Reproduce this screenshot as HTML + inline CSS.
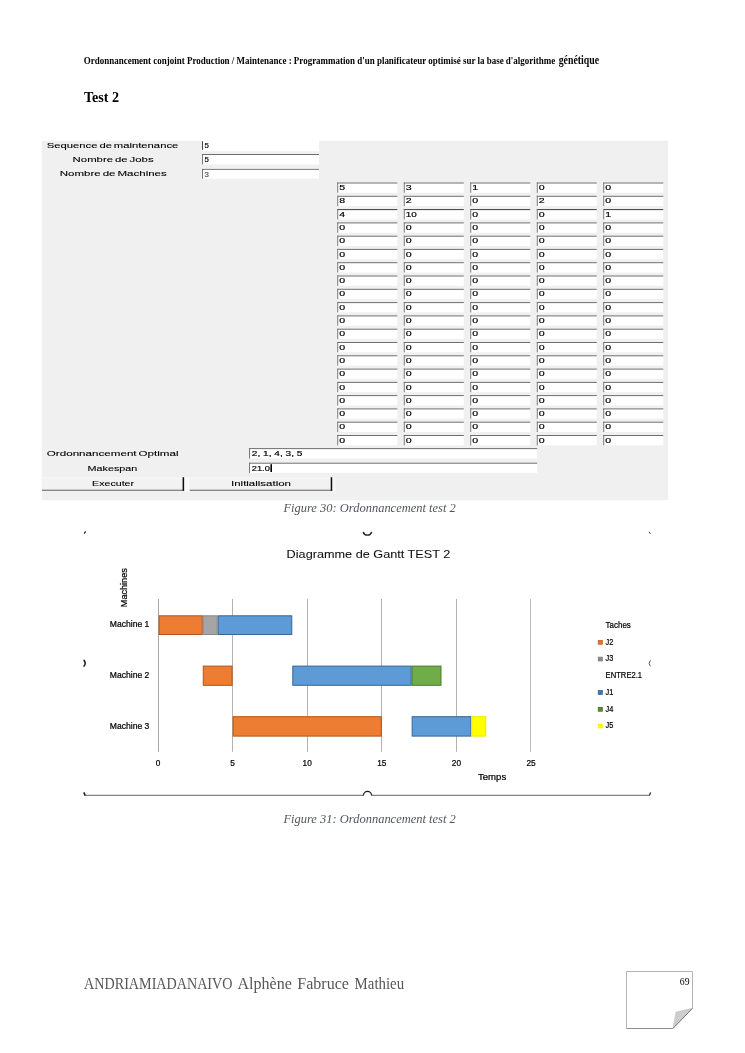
<!DOCTYPE html>
<html lang="fr"><head><meta charset="utf-8"><title>Ordonnancement conjoint Production / Maintenance - Test 2</title>
<style>
html,body{margin:0;padding:0;background:#fff}
body{width:745px;height:1053px;overflow:hidden;position:relative;font-family:"Liberation Sans",sans-serif}
svg{position:absolute;left:0;top:0;display:block}
text{white-space:pre}
.ui{font-family:"Liberation Sans",sans-serif;font-size:7.4px;fill:#000;stroke:#000;stroke-width:.1px;word-spacing:-.8px}
.ch{font-family:"Liberation Sans",sans-serif;fill:#000;stroke:#000;stroke-width:.22px}
.uv{stroke-width:.17px}
.cap{font-family:"Liberation Serif",serif;font-style:italic;font-size:12.3px;fill:#50555c}
</style></head><body>
<svg width="745" height="1053" viewBox="0 0 745 1053">
<defs><filter id="soft" x="0" y="0" width="745" height="1053" filterUnits="userSpaceOnUse"><feGaussianBlur stdDeviation="0.35"/></filter>
<filter id="soft2" x="0" y="0" width="745" height="1053" filterUnits="userSpaceOnUse"><feGaussianBlur stdDeviation="0.25"/></filter>
<filter id="soft3" x="0" y="0" width="745" height="1053" filterUnits="userSpaceOnUse"><feGaussianBlur stdDeviation="0.2"/></filter></defs>
<g id="grid"><rect x="158" y="599" width="1" height="152.8" fill="#a6a6a6"/><rect x="232" y="599" width="1" height="152.8" fill="#b2b2b2"/><rect x="307" y="599" width="1" height="152.8" fill="#b2b2b2"/><rect x="381" y="599" width="1" height="152.8" fill="#b2b2b2"/><rect x="456" y="599" width="1" height="152.8" fill="#b2b2b2"/><rect x="530" y="599" width="1" height="152.8" fill="#bcbcbc"/></g>
<g id="doc" filter="url(#soft3)">
<text x="83.8" y="63.6" textLength="471.4" lengthAdjust="spacingAndGlyphs" style="font-family:'Liberation Serif',serif;font-weight:bold;font-size:10.8px;fill:#000">Ordonnancement conjoint Production / Maintenance : Programmation d'un planificateur optimisé sur la base d'algorithme</text>
<text x="558.7" y="63.8" textLength="40.4" lengthAdjust="spacingAndGlyphs" style="font-family:'Liberation Serif',serif;font-weight:bold;font-size:12.6px;fill:#000">génétique</text>
<text x="84.0" y="101.8" textLength="35.1" lengthAdjust="spacingAndGlyphs" style="font-family:'Liberation Serif',serif;font-weight:bold;font-size:15px;fill:#000">Test 2</text>
</g>
<g id="form" filter="url(#soft)">
<rect x="41.8" y="140.7" width="626.3" height="359.5" fill="#f0f0f0"/>
<rect x="202" y="140.2" width="117" height="11" fill="#fff"/><rect x="202" y="141.2" width="1" height="8.6" fill="#444"/>
<rect x="202.0" y="154.0" width="117.0" height="10.5" fill="#fff"/><rect x="202.0" y="154.0" width="117.0" height="1" fill="#6e6e6e"/><rect x="202.0" y="154.0" width="0.9" height="10.5" fill="#6a6a6a"/>
<rect x="202.0" y="168.9" width="117.0" height="9.8" fill="#fff"/><rect x="202.0" y="168.9" width="117.0" height="1" fill="#7c7c7c"/><rect x="202.0" y="168.9" width="0.9" height="9.8" fill="#6a6a6a"/>
<text class="ui" x="46.8" y="147.9" textLength="131.5" lengthAdjust="spacingAndGlyphs">Sequence de maintenance</text>
<text class="ui" x="72.6" y="162.3" textLength="81.0" lengthAdjust="spacingAndGlyphs">Nombre de Jobs</text>
<text class="ui" x="59.8" y="176.0" textLength="107.0" lengthAdjust="spacingAndGlyphs">Nombre de Machines</text>
<text class="ui uv" x="204.6" y="148.2" textLength="4.4" lengthAdjust="spacingAndGlyphs">5</text>
<text class="ui uv" x="204.6" y="162.4" textLength="4.4" lengthAdjust="spacingAndGlyphs">5</text>
<text class="ui uv" style="fill:#555;stroke:#555" x="204.6" y="176.9" textLength="4.4" lengthAdjust="spacingAndGlyphs">3</text>
<rect x="337.3" y="182.5" width="60.0" height="10.3" fill="#fff"/><rect x="337.3" y="182.5" width="60.0" height="1" fill="#6e6e6e"/><rect x="337.3" y="182.5" width="0.9" height="10.3" fill="#6a6a6a"/>
<text class="ui uv" x="339.3" y="190.1" textLength="5.9" lengthAdjust="spacingAndGlyphs">5</text>
<rect x="403.8" y="182.5" width="60.0" height="10.3" fill="#fff"/><rect x="403.8" y="182.5" width="60.0" height="1" fill="#6e6e6e"/><rect x="403.8" y="182.5" width="0.9" height="10.3" fill="#6a6a6a"/>
<text class="ui uv" x="405.8" y="190.1" textLength="5.9" lengthAdjust="spacingAndGlyphs">3</text>
<rect x="470.3" y="182.5" width="60.0" height="10.3" fill="#fff"/><rect x="470.3" y="182.5" width="60.0" height="1" fill="#6e6e6e"/><rect x="470.3" y="182.5" width="0.9" height="10.3" fill="#6a6a6a"/>
<text class="ui uv" x="472.3" y="190.1" textLength="5.9" lengthAdjust="spacingAndGlyphs">1</text>
<rect x="536.8" y="182.5" width="60.0" height="10.3" fill="#fff"/><rect x="536.8" y="182.5" width="60.0" height="1" fill="#6e6e6e"/><rect x="536.8" y="182.5" width="0.9" height="10.3" fill="#6a6a6a"/>
<text class="ui uv" x="538.8" y="190.1" textLength="5.9" lengthAdjust="spacingAndGlyphs">0</text>
<rect x="603.3" y="182.5" width="60.0" height="10.3" fill="#fff"/><rect x="603.3" y="182.5" width="60.0" height="1" fill="#6e6e6e"/><rect x="603.3" y="182.5" width="0.9" height="10.3" fill="#6a6a6a"/>
<text class="ui uv" x="605.3" y="190.1" textLength="5.9" lengthAdjust="spacingAndGlyphs">0</text>
<rect x="337.3" y="195.8" width="60.0" height="10.3" fill="#fff"/><rect x="337.3" y="195.8" width="60.0" height="1" fill="#6e6e6e"/><rect x="337.3" y="195.8" width="0.9" height="10.3" fill="#6a6a6a"/>
<text class="ui uv" x="339.3" y="203.4" textLength="5.9" lengthAdjust="spacingAndGlyphs">8</text>
<rect x="403.8" y="195.8" width="60.0" height="10.3" fill="#fff"/><rect x="403.8" y="195.8" width="60.0" height="1" fill="#6e6e6e"/><rect x="403.8" y="195.8" width="0.9" height="10.3" fill="#6a6a6a"/>
<text class="ui uv" x="405.8" y="203.4" textLength="5.9" lengthAdjust="spacingAndGlyphs">2</text>
<rect x="470.3" y="195.8" width="60.0" height="10.3" fill="#fff"/><rect x="470.3" y="195.8" width="60.0" height="1" fill="#6e6e6e"/><rect x="470.3" y="195.8" width="0.9" height="10.3" fill="#6a6a6a"/>
<text class="ui uv" x="472.3" y="203.4" textLength="5.9" lengthAdjust="spacingAndGlyphs">0</text>
<rect x="536.8" y="195.8" width="60.0" height="10.3" fill="#fff"/><rect x="536.8" y="195.8" width="60.0" height="1" fill="#6e6e6e"/><rect x="536.8" y="195.8" width="0.9" height="10.3" fill="#6a6a6a"/>
<text class="ui uv" x="538.8" y="203.4" textLength="5.9" lengthAdjust="spacingAndGlyphs">2</text>
<rect x="603.3" y="195.8" width="60.0" height="10.3" fill="#fff"/><rect x="603.3" y="195.8" width="60.0" height="1" fill="#6e6e6e"/><rect x="603.3" y="195.8" width="0.9" height="10.3" fill="#6a6a6a"/>
<text class="ui uv" x="605.3" y="203.4" textLength="5.9" lengthAdjust="spacingAndGlyphs">0</text>
<rect x="337.3" y="209.1" width="60.0" height="10.3" fill="#fff"/><rect x="337.3" y="209.1" width="60.0" height="1" fill="#3c3c3c"/><rect x="337.3" y="209.1" width="0.9" height="10.3" fill="#6a6a6a"/>
<text class="ui uv" x="339.3" y="216.7" textLength="5.9" lengthAdjust="spacingAndGlyphs">4</text>
<rect x="403.8" y="209.1" width="60.0" height="10.3" fill="#fff"/><rect x="403.8" y="209.1" width="60.0" height="1" fill="#3c3c3c"/><rect x="403.8" y="209.1" width="0.9" height="10.3" fill="#6a6a6a"/>
<text class="ui uv" x="405.8" y="216.7" textLength="11.0" lengthAdjust="spacingAndGlyphs">10</text>
<rect x="470.3" y="209.1" width="60.0" height="10.3" fill="#fff"/><rect x="470.3" y="209.1" width="60.0" height="1" fill="#3c3c3c"/><rect x="470.3" y="209.1" width="0.9" height="10.3" fill="#6a6a6a"/>
<text class="ui uv" x="472.3" y="216.7" textLength="5.9" lengthAdjust="spacingAndGlyphs">0</text>
<rect x="536.8" y="209.1" width="60.0" height="10.3" fill="#fff"/><rect x="536.8" y="209.1" width="60.0" height="1" fill="#3c3c3c"/><rect x="536.8" y="209.1" width="0.9" height="10.3" fill="#6a6a6a"/>
<text class="ui uv" x="538.8" y="216.7" textLength="5.9" lengthAdjust="spacingAndGlyphs">0</text>
<rect x="603.3" y="209.1" width="60.0" height="10.3" fill="#fff"/><rect x="603.3" y="209.1" width="60.0" height="1" fill="#3c3c3c"/><rect x="603.3" y="209.1" width="0.9" height="10.3" fill="#6a6a6a"/>
<text class="ui uv" x="605.3" y="216.7" textLength="5.9" lengthAdjust="spacingAndGlyphs">1</text>
<rect x="337.3" y="222.4" width="60.0" height="10.3" fill="#fff"/><rect x="337.3" y="222.4" width="60.0" height="1" fill="#6e6e6e"/><rect x="337.3" y="222.4" width="0.9" height="10.3" fill="#6a6a6a"/>
<text class="ui uv" x="339.3" y="230.0" textLength="5.9" lengthAdjust="spacingAndGlyphs">0</text>
<rect x="403.8" y="222.4" width="60.0" height="10.3" fill="#fff"/><rect x="403.8" y="222.4" width="60.0" height="1" fill="#6e6e6e"/><rect x="403.8" y="222.4" width="0.9" height="10.3" fill="#6a6a6a"/>
<text class="ui uv" x="405.8" y="230.0" textLength="5.9" lengthAdjust="spacingAndGlyphs">0</text>
<rect x="470.3" y="222.4" width="60.0" height="10.3" fill="#fff"/><rect x="470.3" y="222.4" width="60.0" height="1" fill="#6e6e6e"/><rect x="470.3" y="222.4" width="0.9" height="10.3" fill="#6a6a6a"/>
<text class="ui uv" x="472.3" y="230.0" textLength="5.9" lengthAdjust="spacingAndGlyphs">0</text>
<rect x="536.8" y="222.4" width="60.0" height="10.3" fill="#fff"/><rect x="536.8" y="222.4" width="60.0" height="1" fill="#6e6e6e"/><rect x="536.8" y="222.4" width="0.9" height="10.3" fill="#6a6a6a"/>
<text class="ui uv" x="538.8" y="230.0" textLength="5.9" lengthAdjust="spacingAndGlyphs">0</text>
<rect x="603.3" y="222.4" width="60.0" height="10.3" fill="#fff"/><rect x="603.3" y="222.4" width="60.0" height="1" fill="#6e6e6e"/><rect x="603.3" y="222.4" width="0.9" height="10.3" fill="#6a6a6a"/>
<text class="ui uv" x="605.3" y="230.0" textLength="5.9" lengthAdjust="spacingAndGlyphs">0</text>
<rect x="337.3" y="235.7" width="60.0" height="10.3" fill="#fff"/><rect x="337.3" y="235.7" width="60.0" height="1" fill="#6e6e6e"/><rect x="337.3" y="235.7" width="0.9" height="10.3" fill="#6a6a6a"/>
<text class="ui uv" x="339.3" y="243.3" textLength="5.9" lengthAdjust="spacingAndGlyphs">0</text>
<rect x="403.8" y="235.7" width="60.0" height="10.3" fill="#fff"/><rect x="403.8" y="235.7" width="60.0" height="1" fill="#6e6e6e"/><rect x="403.8" y="235.7" width="0.9" height="10.3" fill="#6a6a6a"/>
<text class="ui uv" x="405.8" y="243.3" textLength="5.9" lengthAdjust="spacingAndGlyphs">0</text>
<rect x="470.3" y="235.7" width="60.0" height="10.3" fill="#fff"/><rect x="470.3" y="235.7" width="60.0" height="1" fill="#6e6e6e"/><rect x="470.3" y="235.7" width="0.9" height="10.3" fill="#6a6a6a"/>
<text class="ui uv" x="472.3" y="243.3" textLength="5.9" lengthAdjust="spacingAndGlyphs">0</text>
<rect x="536.8" y="235.7" width="60.0" height="10.3" fill="#fff"/><rect x="536.8" y="235.7" width="60.0" height="1" fill="#6e6e6e"/><rect x="536.8" y="235.7" width="0.9" height="10.3" fill="#6a6a6a"/>
<text class="ui uv" x="538.8" y="243.3" textLength="5.9" lengthAdjust="spacingAndGlyphs">0</text>
<rect x="603.3" y="235.7" width="60.0" height="10.3" fill="#fff"/><rect x="603.3" y="235.7" width="60.0" height="1" fill="#6e6e6e"/><rect x="603.3" y="235.7" width="0.9" height="10.3" fill="#6a6a6a"/>
<text class="ui uv" x="605.3" y="243.3" textLength="5.9" lengthAdjust="spacingAndGlyphs">0</text>
<rect x="337.3" y="248.9" width="60.0" height="10.3" fill="#fff"/><rect x="337.3" y="248.9" width="60.0" height="1" fill="#6e6e6e"/><rect x="337.3" y="248.9" width="0.9" height="10.3" fill="#6a6a6a"/>
<text class="ui uv" x="339.3" y="256.6" textLength="5.9" lengthAdjust="spacingAndGlyphs">0</text>
<rect x="403.8" y="248.9" width="60.0" height="10.3" fill="#fff"/><rect x="403.8" y="248.9" width="60.0" height="1" fill="#6e6e6e"/><rect x="403.8" y="248.9" width="0.9" height="10.3" fill="#6a6a6a"/>
<text class="ui uv" x="405.8" y="256.6" textLength="5.9" lengthAdjust="spacingAndGlyphs">0</text>
<rect x="470.3" y="248.9" width="60.0" height="10.3" fill="#fff"/><rect x="470.3" y="248.9" width="60.0" height="1" fill="#6e6e6e"/><rect x="470.3" y="248.9" width="0.9" height="10.3" fill="#6a6a6a"/>
<text class="ui uv" x="472.3" y="256.6" textLength="5.9" lengthAdjust="spacingAndGlyphs">0</text>
<rect x="536.8" y="248.9" width="60.0" height="10.3" fill="#fff"/><rect x="536.8" y="248.9" width="60.0" height="1" fill="#6e6e6e"/><rect x="536.8" y="248.9" width="0.9" height="10.3" fill="#6a6a6a"/>
<text class="ui uv" x="538.8" y="256.6" textLength="5.9" lengthAdjust="spacingAndGlyphs">0</text>
<rect x="603.3" y="248.9" width="60.0" height="10.3" fill="#fff"/><rect x="603.3" y="248.9" width="60.0" height="1" fill="#6e6e6e"/><rect x="603.3" y="248.9" width="0.9" height="10.3" fill="#6a6a6a"/>
<text class="ui uv" x="605.3" y="256.6" textLength="5.9" lengthAdjust="spacingAndGlyphs">0</text>
<rect x="337.3" y="262.2" width="60.0" height="10.3" fill="#fff"/><rect x="337.3" y="262.2" width="60.0" height="1" fill="#6e6e6e"/><rect x="337.3" y="262.2" width="0.9" height="10.3" fill="#6a6a6a"/>
<text class="ui uv" x="339.3" y="269.8" textLength="5.9" lengthAdjust="spacingAndGlyphs">0</text>
<rect x="403.8" y="262.2" width="60.0" height="10.3" fill="#fff"/><rect x="403.8" y="262.2" width="60.0" height="1" fill="#6e6e6e"/><rect x="403.8" y="262.2" width="0.9" height="10.3" fill="#6a6a6a"/>
<text class="ui uv" x="405.8" y="269.8" textLength="5.9" lengthAdjust="spacingAndGlyphs">0</text>
<rect x="470.3" y="262.2" width="60.0" height="10.3" fill="#fff"/><rect x="470.3" y="262.2" width="60.0" height="1" fill="#6e6e6e"/><rect x="470.3" y="262.2" width="0.9" height="10.3" fill="#6a6a6a"/>
<text class="ui uv" x="472.3" y="269.8" textLength="5.9" lengthAdjust="spacingAndGlyphs">0</text>
<rect x="536.8" y="262.2" width="60.0" height="10.3" fill="#fff"/><rect x="536.8" y="262.2" width="60.0" height="1" fill="#6e6e6e"/><rect x="536.8" y="262.2" width="0.9" height="10.3" fill="#6a6a6a"/>
<text class="ui uv" x="538.8" y="269.8" textLength="5.9" lengthAdjust="spacingAndGlyphs">0</text>
<rect x="603.3" y="262.2" width="60.0" height="10.3" fill="#fff"/><rect x="603.3" y="262.2" width="60.0" height="1" fill="#6e6e6e"/><rect x="603.3" y="262.2" width="0.9" height="10.3" fill="#6a6a6a"/>
<text class="ui uv" x="605.3" y="269.8" textLength="5.9" lengthAdjust="spacingAndGlyphs">0</text>
<rect x="337.3" y="275.5" width="60.0" height="10.3" fill="#fff"/><rect x="337.3" y="275.5" width="60.0" height="1" fill="#6e6e6e"/><rect x="337.3" y="275.5" width="0.9" height="10.3" fill="#6a6a6a"/>
<text class="ui uv" x="339.3" y="283.1" textLength="5.9" lengthAdjust="spacingAndGlyphs">0</text>
<rect x="403.8" y="275.5" width="60.0" height="10.3" fill="#fff"/><rect x="403.8" y="275.5" width="60.0" height="1" fill="#6e6e6e"/><rect x="403.8" y="275.5" width="0.9" height="10.3" fill="#6a6a6a"/>
<text class="ui uv" x="405.8" y="283.1" textLength="5.9" lengthAdjust="spacingAndGlyphs">0</text>
<rect x="470.3" y="275.5" width="60.0" height="10.3" fill="#fff"/><rect x="470.3" y="275.5" width="60.0" height="1" fill="#6e6e6e"/><rect x="470.3" y="275.5" width="0.9" height="10.3" fill="#6a6a6a"/>
<text class="ui uv" x="472.3" y="283.1" textLength="5.9" lengthAdjust="spacingAndGlyphs">0</text>
<rect x="536.8" y="275.5" width="60.0" height="10.3" fill="#fff"/><rect x="536.8" y="275.5" width="60.0" height="1" fill="#6e6e6e"/><rect x="536.8" y="275.5" width="0.9" height="10.3" fill="#6a6a6a"/>
<text class="ui uv" x="538.8" y="283.1" textLength="5.9" lengthAdjust="spacingAndGlyphs">0</text>
<rect x="603.3" y="275.5" width="60.0" height="10.3" fill="#fff"/><rect x="603.3" y="275.5" width="60.0" height="1" fill="#6e6e6e"/><rect x="603.3" y="275.5" width="0.9" height="10.3" fill="#6a6a6a"/>
<text class="ui uv" x="605.3" y="283.1" textLength="5.9" lengthAdjust="spacingAndGlyphs">0</text>
<rect x="337.3" y="288.8" width="60.0" height="10.3" fill="#fff"/><rect x="337.3" y="288.8" width="60.0" height="1" fill="#6e6e6e"/><rect x="337.3" y="288.8" width="0.9" height="10.3" fill="#6a6a6a"/>
<text class="ui uv" x="339.3" y="296.4" textLength="5.9" lengthAdjust="spacingAndGlyphs">0</text>
<rect x="403.8" y="288.8" width="60.0" height="10.3" fill="#fff"/><rect x="403.8" y="288.8" width="60.0" height="1" fill="#6e6e6e"/><rect x="403.8" y="288.8" width="0.9" height="10.3" fill="#6a6a6a"/>
<text class="ui uv" x="405.8" y="296.4" textLength="5.9" lengthAdjust="spacingAndGlyphs">0</text>
<rect x="470.3" y="288.8" width="60.0" height="10.3" fill="#fff"/><rect x="470.3" y="288.8" width="60.0" height="1" fill="#6e6e6e"/><rect x="470.3" y="288.8" width="0.9" height="10.3" fill="#6a6a6a"/>
<text class="ui uv" x="472.3" y="296.4" textLength="5.9" lengthAdjust="spacingAndGlyphs">0</text>
<rect x="536.8" y="288.8" width="60.0" height="10.3" fill="#fff"/><rect x="536.8" y="288.8" width="60.0" height="1" fill="#6e6e6e"/><rect x="536.8" y="288.8" width="0.9" height="10.3" fill="#6a6a6a"/>
<text class="ui uv" x="538.8" y="296.4" textLength="5.9" lengthAdjust="spacingAndGlyphs">0</text>
<rect x="603.3" y="288.8" width="60.0" height="10.3" fill="#fff"/><rect x="603.3" y="288.8" width="60.0" height="1" fill="#6e6e6e"/><rect x="603.3" y="288.8" width="0.9" height="10.3" fill="#6a6a6a"/>
<text class="ui uv" x="605.3" y="296.4" textLength="5.9" lengthAdjust="spacingAndGlyphs">0</text>
<rect x="337.3" y="302.1" width="60.0" height="10.3" fill="#fff"/><rect x="337.3" y="302.1" width="60.0" height="1" fill="#6e6e6e"/><rect x="337.3" y="302.1" width="0.9" height="10.3" fill="#6a6a6a"/>
<text class="ui uv" x="339.3" y="309.7" textLength="5.9" lengthAdjust="spacingAndGlyphs">0</text>
<rect x="403.8" y="302.1" width="60.0" height="10.3" fill="#fff"/><rect x="403.8" y="302.1" width="60.0" height="1" fill="#6e6e6e"/><rect x="403.8" y="302.1" width="0.9" height="10.3" fill="#6a6a6a"/>
<text class="ui uv" x="405.8" y="309.7" textLength="5.9" lengthAdjust="spacingAndGlyphs">0</text>
<rect x="470.3" y="302.1" width="60.0" height="10.3" fill="#fff"/><rect x="470.3" y="302.1" width="60.0" height="1" fill="#6e6e6e"/><rect x="470.3" y="302.1" width="0.9" height="10.3" fill="#6a6a6a"/>
<text class="ui uv" x="472.3" y="309.7" textLength="5.9" lengthAdjust="spacingAndGlyphs">0</text>
<rect x="536.8" y="302.1" width="60.0" height="10.3" fill="#fff"/><rect x="536.8" y="302.1" width="60.0" height="1" fill="#6e6e6e"/><rect x="536.8" y="302.1" width="0.9" height="10.3" fill="#6a6a6a"/>
<text class="ui uv" x="538.8" y="309.7" textLength="5.9" lengthAdjust="spacingAndGlyphs">0</text>
<rect x="603.3" y="302.1" width="60.0" height="10.3" fill="#fff"/><rect x="603.3" y="302.1" width="60.0" height="1" fill="#6e6e6e"/><rect x="603.3" y="302.1" width="0.9" height="10.3" fill="#6a6a6a"/>
<text class="ui uv" x="605.3" y="309.7" textLength="5.9" lengthAdjust="spacingAndGlyphs">0</text>
<rect x="337.3" y="315.4" width="60.0" height="10.3" fill="#fff"/><rect x="337.3" y="315.4" width="60.0" height="1" fill="#6e6e6e"/><rect x="337.3" y="315.4" width="0.9" height="10.3" fill="#6a6a6a"/>
<text class="ui uv" x="339.3" y="323.0" textLength="5.9" lengthAdjust="spacingAndGlyphs">0</text>
<rect x="403.8" y="315.4" width="60.0" height="10.3" fill="#fff"/><rect x="403.8" y="315.4" width="60.0" height="1" fill="#6e6e6e"/><rect x="403.8" y="315.4" width="0.9" height="10.3" fill="#6a6a6a"/>
<text class="ui uv" x="405.8" y="323.0" textLength="5.9" lengthAdjust="spacingAndGlyphs">0</text>
<rect x="470.3" y="315.4" width="60.0" height="10.3" fill="#fff"/><rect x="470.3" y="315.4" width="60.0" height="1" fill="#6e6e6e"/><rect x="470.3" y="315.4" width="0.9" height="10.3" fill="#6a6a6a"/>
<text class="ui uv" x="472.3" y="323.0" textLength="5.9" lengthAdjust="spacingAndGlyphs">0</text>
<rect x="536.8" y="315.4" width="60.0" height="10.3" fill="#fff"/><rect x="536.8" y="315.4" width="60.0" height="1" fill="#6e6e6e"/><rect x="536.8" y="315.4" width="0.9" height="10.3" fill="#6a6a6a"/>
<text class="ui uv" x="538.8" y="323.0" textLength="5.9" lengthAdjust="spacingAndGlyphs">0</text>
<rect x="603.3" y="315.4" width="60.0" height="10.3" fill="#fff"/><rect x="603.3" y="315.4" width="60.0" height="1" fill="#6e6e6e"/><rect x="603.3" y="315.4" width="0.9" height="10.3" fill="#6a6a6a"/>
<text class="ui uv" x="605.3" y="323.0" textLength="5.9" lengthAdjust="spacingAndGlyphs">0</text>
<rect x="337.3" y="328.7" width="60.0" height="10.3" fill="#fff"/><rect x="337.3" y="328.7" width="60.0" height="1" fill="#6e6e6e"/><rect x="337.3" y="328.7" width="0.9" height="10.3" fill="#6a6a6a"/>
<text class="ui uv" x="339.3" y="336.3" textLength="5.9" lengthAdjust="spacingAndGlyphs">0</text>
<rect x="403.8" y="328.7" width="60.0" height="10.3" fill="#fff"/><rect x="403.8" y="328.7" width="60.0" height="1" fill="#6e6e6e"/><rect x="403.8" y="328.7" width="0.9" height="10.3" fill="#6a6a6a"/>
<text class="ui uv" x="405.8" y="336.3" textLength="5.9" lengthAdjust="spacingAndGlyphs">0</text>
<rect x="470.3" y="328.7" width="60.0" height="10.3" fill="#fff"/><rect x="470.3" y="328.7" width="60.0" height="1" fill="#6e6e6e"/><rect x="470.3" y="328.7" width="0.9" height="10.3" fill="#6a6a6a"/>
<text class="ui uv" x="472.3" y="336.3" textLength="5.9" lengthAdjust="spacingAndGlyphs">0</text>
<rect x="536.8" y="328.7" width="60.0" height="10.3" fill="#fff"/><rect x="536.8" y="328.7" width="60.0" height="1" fill="#6e6e6e"/><rect x="536.8" y="328.7" width="0.9" height="10.3" fill="#6a6a6a"/>
<text class="ui uv" x="538.8" y="336.3" textLength="5.9" lengthAdjust="spacingAndGlyphs">0</text>
<rect x="603.3" y="328.7" width="60.0" height="10.3" fill="#fff"/><rect x="603.3" y="328.7" width="60.0" height="1" fill="#6e6e6e"/><rect x="603.3" y="328.7" width="0.9" height="10.3" fill="#6a6a6a"/>
<text class="ui uv" x="605.3" y="336.3" textLength="5.9" lengthAdjust="spacingAndGlyphs">0</text>
<rect x="337.3" y="342.0" width="60.0" height="10.3" fill="#fff"/><rect x="337.3" y="342.0" width="60.0" height="1" fill="#6e6e6e"/><rect x="337.3" y="342.0" width="0.9" height="10.3" fill="#6a6a6a"/>
<text class="ui uv" x="339.3" y="349.6" textLength="5.9" lengthAdjust="spacingAndGlyphs">0</text>
<rect x="403.8" y="342.0" width="60.0" height="10.3" fill="#fff"/><rect x="403.8" y="342.0" width="60.0" height="1" fill="#6e6e6e"/><rect x="403.8" y="342.0" width="0.9" height="10.3" fill="#6a6a6a"/>
<text class="ui uv" x="405.8" y="349.6" textLength="5.9" lengthAdjust="spacingAndGlyphs">0</text>
<rect x="470.3" y="342.0" width="60.0" height="10.3" fill="#fff"/><rect x="470.3" y="342.0" width="60.0" height="1" fill="#6e6e6e"/><rect x="470.3" y="342.0" width="0.9" height="10.3" fill="#6a6a6a"/>
<text class="ui uv" x="472.3" y="349.6" textLength="5.9" lengthAdjust="spacingAndGlyphs">0</text>
<rect x="536.8" y="342.0" width="60.0" height="10.3" fill="#fff"/><rect x="536.8" y="342.0" width="60.0" height="1" fill="#6e6e6e"/><rect x="536.8" y="342.0" width="0.9" height="10.3" fill="#6a6a6a"/>
<text class="ui uv" x="538.8" y="349.6" textLength="5.9" lengthAdjust="spacingAndGlyphs">0</text>
<rect x="603.3" y="342.0" width="60.0" height="10.3" fill="#fff"/><rect x="603.3" y="342.0" width="60.0" height="1" fill="#6e6e6e"/><rect x="603.3" y="342.0" width="0.9" height="10.3" fill="#6a6a6a"/>
<text class="ui uv" x="605.3" y="349.6" textLength="5.9" lengthAdjust="spacingAndGlyphs">0</text>
<rect x="337.3" y="355.3" width="60.0" height="10.3" fill="#fff"/><rect x="337.3" y="355.3" width="60.0" height="1" fill="#6e6e6e"/><rect x="337.3" y="355.3" width="0.9" height="10.3" fill="#6a6a6a"/>
<text class="ui uv" x="339.3" y="362.9" textLength="5.9" lengthAdjust="spacingAndGlyphs">0</text>
<rect x="403.8" y="355.3" width="60.0" height="10.3" fill="#fff"/><rect x="403.8" y="355.3" width="60.0" height="1" fill="#6e6e6e"/><rect x="403.8" y="355.3" width="0.9" height="10.3" fill="#6a6a6a"/>
<text class="ui uv" x="405.8" y="362.9" textLength="5.9" lengthAdjust="spacingAndGlyphs">0</text>
<rect x="470.3" y="355.3" width="60.0" height="10.3" fill="#fff"/><rect x="470.3" y="355.3" width="60.0" height="1" fill="#6e6e6e"/><rect x="470.3" y="355.3" width="0.9" height="10.3" fill="#6a6a6a"/>
<text class="ui uv" x="472.3" y="362.9" textLength="5.9" lengthAdjust="spacingAndGlyphs">0</text>
<rect x="536.8" y="355.3" width="60.0" height="10.3" fill="#fff"/><rect x="536.8" y="355.3" width="60.0" height="1" fill="#6e6e6e"/><rect x="536.8" y="355.3" width="0.9" height="10.3" fill="#6a6a6a"/>
<text class="ui uv" x="538.8" y="362.9" textLength="5.9" lengthAdjust="spacingAndGlyphs">0</text>
<rect x="603.3" y="355.3" width="60.0" height="10.3" fill="#fff"/><rect x="603.3" y="355.3" width="60.0" height="1" fill="#6e6e6e"/><rect x="603.3" y="355.3" width="0.9" height="10.3" fill="#6a6a6a"/>
<text class="ui uv" x="605.3" y="362.9" textLength="5.9" lengthAdjust="spacingAndGlyphs">0</text>
<rect x="337.3" y="368.6" width="60.0" height="10.3" fill="#fff"/><rect x="337.3" y="368.6" width="60.0" height="1" fill="#6e6e6e"/><rect x="337.3" y="368.6" width="0.9" height="10.3" fill="#6a6a6a"/>
<text class="ui uv" x="339.3" y="376.2" textLength="5.9" lengthAdjust="spacingAndGlyphs">0</text>
<rect x="403.8" y="368.6" width="60.0" height="10.3" fill="#fff"/><rect x="403.8" y="368.6" width="60.0" height="1" fill="#6e6e6e"/><rect x="403.8" y="368.6" width="0.9" height="10.3" fill="#6a6a6a"/>
<text class="ui uv" x="405.8" y="376.2" textLength="5.9" lengthAdjust="spacingAndGlyphs">0</text>
<rect x="470.3" y="368.6" width="60.0" height="10.3" fill="#fff"/><rect x="470.3" y="368.6" width="60.0" height="1" fill="#6e6e6e"/><rect x="470.3" y="368.6" width="0.9" height="10.3" fill="#6a6a6a"/>
<text class="ui uv" x="472.3" y="376.2" textLength="5.9" lengthAdjust="spacingAndGlyphs">0</text>
<rect x="536.8" y="368.6" width="60.0" height="10.3" fill="#fff"/><rect x="536.8" y="368.6" width="60.0" height="1" fill="#6e6e6e"/><rect x="536.8" y="368.6" width="0.9" height="10.3" fill="#6a6a6a"/>
<text class="ui uv" x="538.8" y="376.2" textLength="5.9" lengthAdjust="spacingAndGlyphs">0</text>
<rect x="603.3" y="368.6" width="60.0" height="10.3" fill="#fff"/><rect x="603.3" y="368.6" width="60.0" height="1" fill="#6e6e6e"/><rect x="603.3" y="368.6" width="0.9" height="10.3" fill="#6a6a6a"/>
<text class="ui uv" x="605.3" y="376.2" textLength="5.9" lengthAdjust="spacingAndGlyphs">0</text>
<rect x="337.3" y="381.9" width="60.0" height="10.3" fill="#fff"/><rect x="337.3" y="381.9" width="60.0" height="1" fill="#6e6e6e"/><rect x="337.3" y="381.9" width="0.9" height="10.3" fill="#6a6a6a"/>
<text class="ui uv" x="339.3" y="389.5" textLength="5.9" lengthAdjust="spacingAndGlyphs">0</text>
<rect x="403.8" y="381.9" width="60.0" height="10.3" fill="#fff"/><rect x="403.8" y="381.9" width="60.0" height="1" fill="#6e6e6e"/><rect x="403.8" y="381.9" width="0.9" height="10.3" fill="#6a6a6a"/>
<text class="ui uv" x="405.8" y="389.5" textLength="5.9" lengthAdjust="spacingAndGlyphs">0</text>
<rect x="470.3" y="381.9" width="60.0" height="10.3" fill="#fff"/><rect x="470.3" y="381.9" width="60.0" height="1" fill="#6e6e6e"/><rect x="470.3" y="381.9" width="0.9" height="10.3" fill="#6a6a6a"/>
<text class="ui uv" x="472.3" y="389.5" textLength="5.9" lengthAdjust="spacingAndGlyphs">0</text>
<rect x="536.8" y="381.9" width="60.0" height="10.3" fill="#fff"/><rect x="536.8" y="381.9" width="60.0" height="1" fill="#6e6e6e"/><rect x="536.8" y="381.9" width="0.9" height="10.3" fill="#6a6a6a"/>
<text class="ui uv" x="538.8" y="389.5" textLength="5.9" lengthAdjust="spacingAndGlyphs">0</text>
<rect x="603.3" y="381.9" width="60.0" height="10.3" fill="#fff"/><rect x="603.3" y="381.9" width="60.0" height="1" fill="#6e6e6e"/><rect x="603.3" y="381.9" width="0.9" height="10.3" fill="#6a6a6a"/>
<text class="ui uv" x="605.3" y="389.5" textLength="5.9" lengthAdjust="spacingAndGlyphs">0</text>
<rect x="337.3" y="395.1" width="60.0" height="10.3" fill="#fff"/><rect x="337.3" y="395.1" width="60.0" height="1" fill="#6e6e6e"/><rect x="337.3" y="395.1" width="0.9" height="10.3" fill="#6a6a6a"/>
<text class="ui uv" x="339.3" y="402.7" textLength="5.9" lengthAdjust="spacingAndGlyphs">0</text>
<rect x="403.8" y="395.1" width="60.0" height="10.3" fill="#fff"/><rect x="403.8" y="395.1" width="60.0" height="1" fill="#6e6e6e"/><rect x="403.8" y="395.1" width="0.9" height="10.3" fill="#6a6a6a"/>
<text class="ui uv" x="405.8" y="402.7" textLength="5.9" lengthAdjust="spacingAndGlyphs">0</text>
<rect x="470.3" y="395.1" width="60.0" height="10.3" fill="#fff"/><rect x="470.3" y="395.1" width="60.0" height="1" fill="#6e6e6e"/><rect x="470.3" y="395.1" width="0.9" height="10.3" fill="#6a6a6a"/>
<text class="ui uv" x="472.3" y="402.7" textLength="5.9" lengthAdjust="spacingAndGlyphs">0</text>
<rect x="536.8" y="395.1" width="60.0" height="10.3" fill="#fff"/><rect x="536.8" y="395.1" width="60.0" height="1" fill="#6e6e6e"/><rect x="536.8" y="395.1" width="0.9" height="10.3" fill="#6a6a6a"/>
<text class="ui uv" x="538.8" y="402.7" textLength="5.9" lengthAdjust="spacingAndGlyphs">0</text>
<rect x="603.3" y="395.1" width="60.0" height="10.3" fill="#fff"/><rect x="603.3" y="395.1" width="60.0" height="1" fill="#6e6e6e"/><rect x="603.3" y="395.1" width="0.9" height="10.3" fill="#6a6a6a"/>
<text class="ui uv" x="605.3" y="402.7" textLength="5.9" lengthAdjust="spacingAndGlyphs">0</text>
<rect x="337.3" y="408.4" width="60.0" height="10.3" fill="#fff"/><rect x="337.3" y="408.4" width="60.0" height="1" fill="#6e6e6e"/><rect x="337.3" y="408.4" width="0.9" height="10.3" fill="#6a6a6a"/>
<text class="ui uv" x="339.3" y="416.0" textLength="5.9" lengthAdjust="spacingAndGlyphs">0</text>
<rect x="403.8" y="408.4" width="60.0" height="10.3" fill="#fff"/><rect x="403.8" y="408.4" width="60.0" height="1" fill="#6e6e6e"/><rect x="403.8" y="408.4" width="0.9" height="10.3" fill="#6a6a6a"/>
<text class="ui uv" x="405.8" y="416.0" textLength="5.9" lengthAdjust="spacingAndGlyphs">0</text>
<rect x="470.3" y="408.4" width="60.0" height="10.3" fill="#fff"/><rect x="470.3" y="408.4" width="60.0" height="1" fill="#6e6e6e"/><rect x="470.3" y="408.4" width="0.9" height="10.3" fill="#6a6a6a"/>
<text class="ui uv" x="472.3" y="416.0" textLength="5.9" lengthAdjust="spacingAndGlyphs">0</text>
<rect x="536.8" y="408.4" width="60.0" height="10.3" fill="#fff"/><rect x="536.8" y="408.4" width="60.0" height="1" fill="#6e6e6e"/><rect x="536.8" y="408.4" width="0.9" height="10.3" fill="#6a6a6a"/>
<text class="ui uv" x="538.8" y="416.0" textLength="5.9" lengthAdjust="spacingAndGlyphs">0</text>
<rect x="603.3" y="408.4" width="60.0" height="10.3" fill="#fff"/><rect x="603.3" y="408.4" width="60.0" height="1" fill="#6e6e6e"/><rect x="603.3" y="408.4" width="0.9" height="10.3" fill="#6a6a6a"/>
<text class="ui uv" x="605.3" y="416.0" textLength="5.9" lengthAdjust="spacingAndGlyphs">0</text>
<rect x="337.3" y="421.7" width="60.0" height="10.3" fill="#fff"/><rect x="337.3" y="421.7" width="60.0" height="1" fill="#6e6e6e"/><rect x="337.3" y="421.7" width="0.9" height="10.3" fill="#6a6a6a"/>
<text class="ui uv" x="339.3" y="429.3" textLength="5.9" lengthAdjust="spacingAndGlyphs">0</text>
<rect x="403.8" y="421.7" width="60.0" height="10.3" fill="#fff"/><rect x="403.8" y="421.7" width="60.0" height="1" fill="#6e6e6e"/><rect x="403.8" y="421.7" width="0.9" height="10.3" fill="#6a6a6a"/>
<text class="ui uv" x="405.8" y="429.3" textLength="5.9" lengthAdjust="spacingAndGlyphs">0</text>
<rect x="470.3" y="421.7" width="60.0" height="10.3" fill="#fff"/><rect x="470.3" y="421.7" width="60.0" height="1" fill="#6e6e6e"/><rect x="470.3" y="421.7" width="0.9" height="10.3" fill="#6a6a6a"/>
<text class="ui uv" x="472.3" y="429.3" textLength="5.9" lengthAdjust="spacingAndGlyphs">0</text>
<rect x="536.8" y="421.7" width="60.0" height="10.3" fill="#fff"/><rect x="536.8" y="421.7" width="60.0" height="1" fill="#6e6e6e"/><rect x="536.8" y="421.7" width="0.9" height="10.3" fill="#6a6a6a"/>
<text class="ui uv" x="538.8" y="429.3" textLength="5.9" lengthAdjust="spacingAndGlyphs">0</text>
<rect x="603.3" y="421.7" width="60.0" height="10.3" fill="#fff"/><rect x="603.3" y="421.7" width="60.0" height="1" fill="#6e6e6e"/><rect x="603.3" y="421.7" width="0.9" height="10.3" fill="#6a6a6a"/>
<text class="ui uv" x="605.3" y="429.3" textLength="5.9" lengthAdjust="spacingAndGlyphs">0</text>
<rect x="337.3" y="435.0" width="60.0" height="10.3" fill="#fff"/><rect x="337.3" y="435.0" width="60.0" height="1" fill="#6e6e6e"/><rect x="337.3" y="435.0" width="0.9" height="10.3" fill="#6a6a6a"/>
<text class="ui uv" x="339.3" y="442.6" textLength="5.9" lengthAdjust="spacingAndGlyphs">0</text>
<rect x="403.8" y="435.0" width="60.0" height="10.3" fill="#fff"/><rect x="403.8" y="435.0" width="60.0" height="1" fill="#6e6e6e"/><rect x="403.8" y="435.0" width="0.9" height="10.3" fill="#6a6a6a"/>
<text class="ui uv" x="405.8" y="442.6" textLength="5.9" lengthAdjust="spacingAndGlyphs">0</text>
<rect x="470.3" y="435.0" width="60.0" height="10.3" fill="#fff"/><rect x="470.3" y="435.0" width="60.0" height="1" fill="#6e6e6e"/><rect x="470.3" y="435.0" width="0.9" height="10.3" fill="#6a6a6a"/>
<text class="ui uv" x="472.3" y="442.6" textLength="5.9" lengthAdjust="spacingAndGlyphs">0</text>
<rect x="536.8" y="435.0" width="60.0" height="10.3" fill="#fff"/><rect x="536.8" y="435.0" width="60.0" height="1" fill="#6e6e6e"/><rect x="536.8" y="435.0" width="0.9" height="10.3" fill="#6a6a6a"/>
<text class="ui uv" x="538.8" y="442.6" textLength="5.9" lengthAdjust="spacingAndGlyphs">0</text>
<rect x="603.3" y="435.0" width="60.0" height="10.3" fill="#fff"/><rect x="603.3" y="435.0" width="60.0" height="1" fill="#6e6e6e"/><rect x="603.3" y="435.0" width="0.9" height="10.3" fill="#6a6a6a"/>
<text class="ui uv" x="605.3" y="442.6" textLength="5.9" lengthAdjust="spacingAndGlyphs">0</text>
<text class="ui" x="46.8" y="455.8" textLength="131.8" lengthAdjust="spacingAndGlyphs">Ordonnancement Optimal</text>
<text class="ui" x="87.6" y="470.8" textLength="49.8" lengthAdjust="spacingAndGlyphs">Makespan</text>
<rect x="249.0" y="448.1" width="288.2" height="10.4" fill="#fff"/><rect x="249.0" y="448.1" width="288.2" height="1" fill="#6e6e6e"/><rect x="249.0" y="448.1" width="0.9" height="10.4" fill="#6a6a6a"/>
<rect x="249.0" y="462.7" width="288.2" height="10.2" fill="#fff"/><rect x="249.0" y="462.7" width="288.2" height="1" fill="#6e6e6e"/><rect x="249.0" y="462.7" width="0.9" height="10.2" fill="#6a6a6a"/>
<text class="ui uv" style="word-spacing:0" x="251.8" y="456.0" textLength="50.6" lengthAdjust="spacingAndGlyphs">2, 1, 4, 3, 5</text>
<text class="ui uv" x="251.8" y="470.7" textLength="18.0" lengthAdjust="spacingAndGlyphs">21.0</text>
<rect x="270.4" y="464.2" width="1.6" height="7.8" fill="#000"/>
<rect x="42.0" y="477.6" width="142.2" height="13.2" fill="#f2f2f2"/><rect x="42.0" y="477.6" width="142.2" height="0.8" fill="#f9f9f9"/><rect x="42.0" y="489.7" width="142.2" height="1.1" fill="#6e6e6e"/><rect x="182.6" y="477.2" width="1.6" height="13.6" fill="#111"/><rect x="184.6" y="477.0" width="5" height="14.8" fill="#fafafa"/><text class="ui" x="92.1" y="485.6" textLength="42.0" lengthAdjust="spacingAndGlyphs">Executer</text>
<rect x="189.7" y="477.6" width="142.6" height="13.2" fill="#f2f2f2"/><rect x="189.7" y="477.6" width="142.6" height="0.8" fill="#f9f9f9"/><rect x="189.7" y="489.7" width="142.6" height="1.1" fill="#6e6e6e"/><rect x="330.7" y="477.2" width="1.6" height="13.6" fill="#111"/><rect x="332.7" y="477.0" width="3" height="14.8" fill="#f5f5f5"/><text class="ui" x="231.0" y="485.6" textLength="60.0" lengthAdjust="spacingAndGlyphs">Initialisation</text>
</g>
<g filter="url(#soft3)">
<text class="cap" x="283.4" y="511.6" textLength="172.4" lengthAdjust="spacingAndGlyphs">Figure 30: Ordonnancement test 2</text>
</g>
<g id="chart" filter="url(#soft2)">
<path d="M363.1 532 A4.5 4.5 0 0 0 371.7 532" fill="none" stroke="#1a1a1a" stroke-width="1.3"/>
<path d="M84.2 533.6 L85.6 531.4" stroke="#222" stroke-width="1.2" fill="none"/>
<path d="M649.2 531.8 L650.4 534" stroke="#555" stroke-width="1" fill="none"/>
<path d="M83.6 660 A4.2 4.2 0 0 1 83.6 666.6" fill="none" stroke="#222" stroke-width="1.6"/>
<path d="M650.4 660.3 A4.6 4.6 0 0 0 650.4 666.3" fill="none" stroke="#444" stroke-width="0.9"/>
<path d="M84.1 795.3 H363.4 M371.6 795.3 H649.6" stroke="#666" stroke-width="1" fill="none"/>
<path d="M363.4 795.5 A4.1 4.1 0 0 1 371.6 795.5" fill="none" stroke="#1a1a1a" stroke-width="1.2"/>
<path d="M83.8 792.4 L85.2 795.4" stroke="#222" stroke-width="1.6" fill="none"/>
<path d="M649.4 795.4 L650.6 792.6" stroke="#222" stroke-width="1.2" fill="none"/>
<text class="ch" x="286.6" y="557.8" textLength="163.8" lengthAdjust="spacingAndGlyphs" style="font-size:11.2px;fill:#111;stroke-width:.06px">Diagramme de Gantt TEST 2</text>
<text class="ch" x="155.7" y="765.7" textLength="4.6" lengthAdjust="spacingAndGlyphs" style="font-size:8.2px">0</text>
<text class="ch" x="230.3" y="765.7" textLength="4.6" lengthAdjust="spacingAndGlyphs" style="font-size:8.2px">5</text>
<text class="ch" x="302.6" y="765.7" textLength="9.2" lengthAdjust="spacingAndGlyphs" style="font-size:8.2px">10</text>
<text class="ch" x="377.2" y="765.7" textLength="9.2" lengthAdjust="spacingAndGlyphs" style="font-size:8.2px">15</text>
<text class="ch" x="451.8" y="765.7" textLength="9.2" lengthAdjust="spacingAndGlyphs" style="font-size:8.2px">20</text>
<text class="ch" x="526.4" y="765.7" textLength="9.2" lengthAdjust="spacingAndGlyphs" style="font-size:8.2px">25</text>
<rect x="159.10" y="615.80" width="43.16" height="18.70" fill="#ed7d31" stroke="#b0561a" stroke-width="1"/>
<rect x="203.26" y="615.80" width="13.92" height="18.70" fill="#a5a5a5" stroke="#8a8a8a" stroke-width="1"/>
<rect x="218.18" y="615.80" width="73.60" height="18.70" fill="#5b9bd5" stroke="#34679a" stroke-width="1"/>
<rect x="203.26" y="666.10" width="28.84" height="19.20" fill="#ed7d31" stroke="#b0561a" stroke-width="1"/>
<rect x="292.78" y="666.10" width="118.36" height="19.20" fill="#5b9bd5" stroke="#34679a" stroke-width="1"/>
<rect x="412.14" y="666.10" width="28.84" height="19.20" fill="#6fac46" stroke="#4a7a2c" stroke-width="1"/>
<rect x="233.10" y="716.70" width="148.20" height="19.40" fill="#ed7d31" stroke="#b0561a" stroke-width="1"/>
<rect x="412.14" y="716.70" width="58.68" height="19.40" fill="#5b9bd5" stroke="#34679a" stroke-width="1"/>
<rect x="471.82" y="716.70" width="13.92" height="19.40" fill="#ffff00" stroke="#ecec00" stroke-width="1"/>
<text class="ch" x="109.8" y="626.8" textLength="39.5" lengthAdjust="spacingAndGlyphs" style="font-size:8.2px">Machine 1</text>
<text class="ch" x="109.8" y="677.8" textLength="39.5" lengthAdjust="spacingAndGlyphs" style="font-size:8.2px">Machine 2</text>
<text class="ch" x="109.8" y="728.9" textLength="39.5" lengthAdjust="spacingAndGlyphs" style="font-size:8.2px">Machine 3</text>
<text class="ch" transform="translate(127.3 607.2) rotate(-90)" x="0" y="0" textLength="39" lengthAdjust="spacingAndGlyphs" style="font-size:8.6px">Machines</text>
<text class="ch" x="478" y="779.5" textLength="28.2" lengthAdjust="spacingAndGlyphs" style="font-size:8.6px">Temps</text>
<text class="ch" x="605.6" y="627.7" textLength="25.2" lengthAdjust="spacingAndGlyphs" style="font-size:8.8px">Taches</text>
<rect x="598.2" y="640.35" width="4.2" height="3.9" fill="#e8702a" stroke="#c55a11" stroke-width="0.7"/><text class="ch" x="605.6" y="644.5" textLength="7.8" lengthAdjust="spacingAndGlyphs" style="font-size:8.8px">J2</text>
<rect x="598.2" y="657.10" width="4.2" height="3.9" fill="#8c8c8c" stroke="#7a7a7a" stroke-width="0.7"/><text class="ch" x="605.6" y="661.2" textLength="7.8" lengthAdjust="spacingAndGlyphs" style="font-size:8.8px">J3</text>
<text class="ch" x="605.6" y="678.0" textLength="36.5" lengthAdjust="spacingAndGlyphs" style="font-size:8.8px">ENTRE2.1</text>
<rect x="598.2" y="690.60" width="4.2" height="3.9" fill="#3b78b3" stroke="#2e5f8f" stroke-width="0.7"/><text class="ch" x="605.6" y="694.7" textLength="7.8" lengthAdjust="spacingAndGlyphs" style="font-size:8.8px">J1</text>
<rect x="598.2" y="707.35" width="4.2" height="3.9" fill="#55932c" stroke="#3d6b1e" stroke-width="0.7"/><text class="ch" x="605.6" y="711.5" textLength="7.8" lengthAdjust="spacingAndGlyphs" style="font-size:8.8px">J4</text>
<rect x="598.2" y="724.10" width="4.2" height="3.9" fill="#ffff00" stroke="#f0f000" stroke-width="0.7"/><text class="ch" x="605.6" y="728.2" textLength="7.8" lengthAdjust="spacingAndGlyphs" style="font-size:8.8px">J5</text>
</g>
<g filter="url(#soft3)">
<text class="cap" x="283.4" y="823.3" textLength="172.4" lengthAdjust="spacingAndGlyphs">Figure 31: Ordonnancement test 2</text>
<text y="988.8" style="font-family:'Liberation Serif',serif;font-size:17px;fill:#565656"><tspan x="84.1" textLength="148.4" lengthAdjust="spacingAndGlyphs">ANDRIAMIADANAIVO</tspan> <tspan x="237.4" textLength="54.4" lengthAdjust="spacingAndGlyphs">Alphène</tspan> <tspan x="297.3" textLength="51.7" lengthAdjust="spacingAndGlyphs">Fabruce</tspan> <tspan x="354.6" textLength="49.5" lengthAdjust="spacingAndGlyphs">Mathieu</tspan></text>
<path d="M626.5 1028.5 V971.5 H692.5 V1008.3" fill="none" stroke="#b4b4b4" stroke-width="1"/>
<path d="M626.5 1028.5 H672.9" fill="none" stroke="#8c8c8c" stroke-width="1"/>
<path d="M692.5 1008.3 L676.1 1012.1 L672.9 1028.5 Z" fill="#cdcdcd" stroke="#bdbdbd" stroke-width="0.6"/>
<path d="M692.5 1008.3 L672.9 1028.5" fill="none" stroke="#6a6a6a" stroke-width="0.9"/>
<text x="679.8" y="984.8" textLength="9.7" lengthAdjust="spacingAndGlyphs" style="font-family:'Liberation Serif',serif;font-size:9.3px;fill:#000">69</text>
</g>
</svg>
</body></html>
